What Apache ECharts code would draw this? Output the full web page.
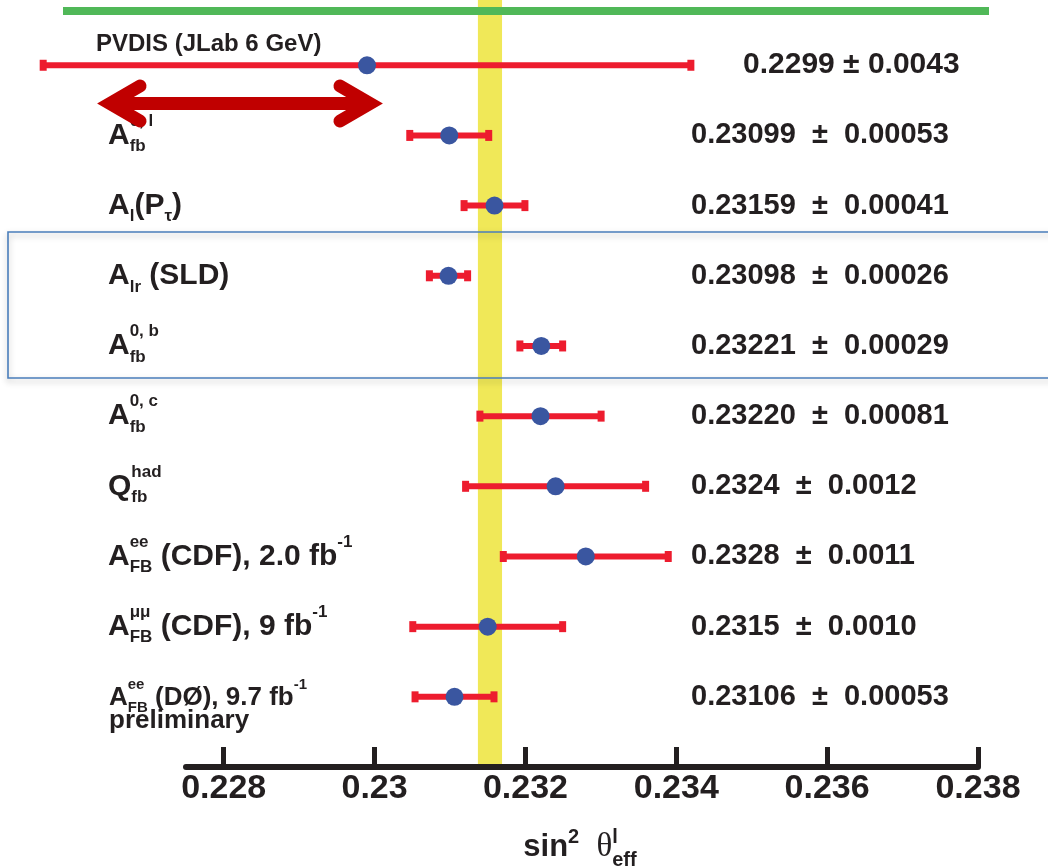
<!DOCTYPE html>
<html>
<head>
<meta charset="utf-8">
<script src="https://cdn.jsdelivr.net/npm/echarts@6.0.0/dist/echarts.min.js"></script>
<style>
  html, body { margin: 0; padding: 0; background: #fff; }
  #main { width: 1048px; height: 866px; }
</style>
</head>
<body>
<div id="main"></div>
<script>
// sin^2 theta_eff measurements, top to bottom
const labels = [
  'PVDIS (JLab 6 GeV)',
  'A_{fb}^{0, l}',
  'A_{l}(P_{τ})',
  'A_{lr} (SLD)',
  'A_{fb}^{0, b}',
  'A_{fb}^{0, c}',
  'Q_{fb}^{had}',
  'A_{FB}^{ee} (CDF), 2.0 fb^{-1}',
  'A_{FB}^{μμ} (CDF), 9 fb^{-1}',
  'A_{FB}^{ee} (DØ), 9.7 fb^{-1}\npreliminary'
];
const values = [0.2299, 0.23099, 0.23159, 0.23098, 0.23221, 0.23220, 0.2324, 0.2328, 0.2315, 0.23106];
const errors = [0.0043, 0.00053, 0.00041, 0.00026, 0.00029, 0.00081, 0.0012, 0.0011, 0.0010, 0.00053];
const valueLabels = [
  '0.2299 ± 0.0043',
  '0.23099  ±  0.00053',
  '0.23159  ±  0.00041',
  '0.23098  ±  0.00026',
  '0.23221  ±  0.00029',
  '0.23220  ±  0.00081',
  '0.2324  ±  0.0012',
  '0.2328  ±  0.0011',
  '0.2315  ±  0.0010',
  '0.23106  ±  0.00053'
];
const xTicks = [0.228, 0.23, 0.232, 0.234, 0.236, 0.238];
// world average band: [centre, half width]
const worldAverage = [0.23153, 0.00016];
const axisTitle = 'sin^{2}  θ^{l}_{eff}';

const TEXT = '#231f20';
const RED = '#ed1c2e';
const BLUE = '#3a56a0';
const SANS = '"Liberation Sans", Arial, Helvetica, sans-serif';
const SERIF = '"Liberation Serif", "Times New Roman", serif';

const ctx = document.createElement('canvas').getContext('2d');
function measure(str, font) {
  ctx.font = font;
  return ctx.measureText(str).width;
}
function fontOf(size, family, weight) {
  return (weight || 'bold') + ' ' + size + 'px ' + family;
}
function txt(text, x, y, font) {
  return {
    type: 'text', x: x, y: y, z2: 10,
    style: { text: text, font: font, fill: TEXT, align: 'left', verticalAlign: 'middle', textAlign: 'left', textVerticalAlign: 'middle' }
  };
}

// tiny markup: A_{sub}^{sup} with stacked scripts
function mathText(markup, x0, y0, size, opt) {
  opt = opt || {};
  const small = Math.round(size * (opt.scriptScale || 0.58));
  const subDy = size * (opt.subDy != null ? opt.subDy : 0.37);
  const supDy = size * (opt.supDy != null ? opt.supDy : -0.48);
  const els = [];
  let x = x0, scriptX = null, scriptEnd = x0;
  const re = /([_^])\{([^}]*)\}|([^_^]+)/g;
  let m;
  while ((m = re.exec(markup))) {
    if (m[3] !== undefined) {
      if (scriptX !== null) { x = scriptEnd; scriptX = null; }
      m[3].split(/(θ)/).forEach(part => {
        if (!part) return;
        const f = part === 'θ' ? fontOf(opt.greekSize || size, SERIF, 'normal') : fontOf(size, SANS);
        els.push(txt(part, x, y0, f));
        x += measure(part, f);
      });
    } else {
      if (scriptX === null) { scriptX = x; scriptEnd = x; }
      const f = fontOf(small, SANS);
      els.push(txt(m[2], scriptX, y0 + (m[1] === '_' ? subDy : supDy), f));
      scriptEnd = Math.max(scriptEnd, scriptX + measure(m[2], f));
    }
  }
  if (scriptX !== null) x = scriptEnd;
  return { els: els, width: x - x0 };
}

const rows = values.map((v, i) => [v, i, errors[i]]);

function renderRow(params, api) {
  const i = params.dataIndex;
  const v = api.value(0), row = api.value(1), e = api.value(2);
  const c = api.coord([v, row]);
  const lo = api.coord([v - e, row]);
  const hi = api.coord([v + e, row]);
  const y = c[1];
  const children = [
    { type: 'line', shape: { x1: lo[0], y1: y, x2: hi[0], y2: y }, style: { stroke: RED, lineWidth: 6 } },
    { type: 'rect', shape: { x: lo[0] - 3, y: y - 5.5, width: 7, height: 11 }, style: { fill: RED } },
    { type: 'rect', shape: { x: hi[0] - 4, y: y - 5.5, width: 7, height: 11 }, style: { fill: RED } },
    { type: 'circle', shape: { cx: c[0], cy: y, r: 9 }, style: { fill: BLUE } }
  ];
  // left label
  if (i === 0) {
    children.push(txt(labels[i], 96, y - 21, fontOf(24, SANS)));
  } else {
    const lines = labels[i].split('\n');
    if (lines.length === 1) {
      children.push(...mathText(lines[0], 108, y, 30).els);
    } else {
      children.push(...mathText(lines[0], 109, y + 1, 26).els);
      children.push(...mathText(lines[1], 109, y + 24, 26).els);
    }
  }
  // value on the right
  if (i === 0) {
    children.push(txt(valueLabels[i], 743, y - 1, fontOf(30, SANS)));
  } else {
    children.push(txt(valueLabels[i], 691, y, fontOf(29, SANS)));
  }
  return { type: 'group', children: children };
}

function renderBand(params, api) {
  const cs = params.coordSys;
  const a = api.coord([api.value(0) - api.value(1), 0]);
  const b = api.coord([api.value(0) + api.value(1), 0]);
  return {
    type: 'rect',
    shape: { x: a[0], y: cs.y, width: b[0] - a[0], height: cs.height },
    style: { fill: '#f0e858' }
  };
}

// axis title, centred under the axis
const GRID_LEFT = 186, GRID_RIGHT = 70;
const titleOpt = { scriptScale: 0.65, supDy: -0.3, subDy: 0.42, greekSize: 33 };
const titleW = mathText(axisTitle, 0, 0, 31, titleOpt).width;
const titleX = (GRID_LEFT + (1048 - GRID_RIGHT)) / 2 - titleW / 2 - 2;
const titleEls = mathText(axisTitle, titleX, 847, 31, titleOpt).els;

const arrowStyle = { stroke: '#c00000', lineWidth: 13, lineCap: 'round', lineJoin: 'miter', fill: null };

const chart = echarts.init(document.getElementById('main'));
chart.setOption({
  animation: false,
  backgroundColor: '#fff',
  grid: { left: GRID_LEFT, right: GRID_RIGHT, top: 0, bottom: 99, outerBoundsMode: 'none' },
  xAxis: {
    type: 'value',
    min: 0.2275,
    max: 0.238,
    z: 5,
    splitLine: { show: false },
    axisLine: { show: true, onZero: false, lineStyle: { color: TEXT, width: 6 } },
    axisTick: { show: true, inside: true, length: 20, customValues: xTicks, lineStyle: { color: TEXT, width: 5 } },
    axisLabel: {
      customValues: xTicks,
      showMinLabel: true,
      showMaxLabel: true,
      margin: 5,
      color: TEXT,
      fontFamily: SANS,
      fontWeight: 'bold',
      fontSize: 34
    }
  },
  yAxis: { type: 'value', min: -0.93, max: 10, inverse: true, show: false },
  series: [
    {
      type: 'custom',
      name: 'world average',
      z: 1,
      silent: true,
      renderItem: renderBand,
      data: [worldAverage],
      clip: false
    },
    {
      type: 'custom',
      name: 'measurements',
      z: 3,
      silent: true,
      renderItem: renderRow,
      encode: { x: 0, y: 1 },
      data: rows,
      clip: false
    }
  ],
  graphic: [
    // green bar on top
    { type: 'line', z: 20, shape: { x1: 63, y1: 11, x2: 989, y2: 11 }, style: { stroke: '#50b858', lineWidth: 8 } },
    // highlight box
    {
      type: 'rect', z: 20,
      shape: { x: 8, y: 232, width: 1100, height: 146 },
      style: { fill: null, stroke: '#4a7ebb', lineWidth: 1.6, shadowBlur: 6, shadowOffsetY: 3, shadowColor: 'rgba(0,0,0,0.3)' }
    },
    // double arrow
    { type: 'polyline', z: 20, shape: { points: [[110, 103.5], [370, 103.5]] }, style: Object.assign({}, arrowStyle, { lineCap: 'butt' }) },
    { type: 'polyline', z: 20, shape: { points: [[140, 86], [110, 103.5], [140, 121]] }, style: arrowStyle },
    { type: 'polyline', z: 20, shape: { points: [[340, 86], [370, 103.5], [340, 121]] }, style: arrowStyle },
    ...titleEls.map(e => Object.assign(e, { z: 20 }))
  ]
});
</script>
</body>
</html>
